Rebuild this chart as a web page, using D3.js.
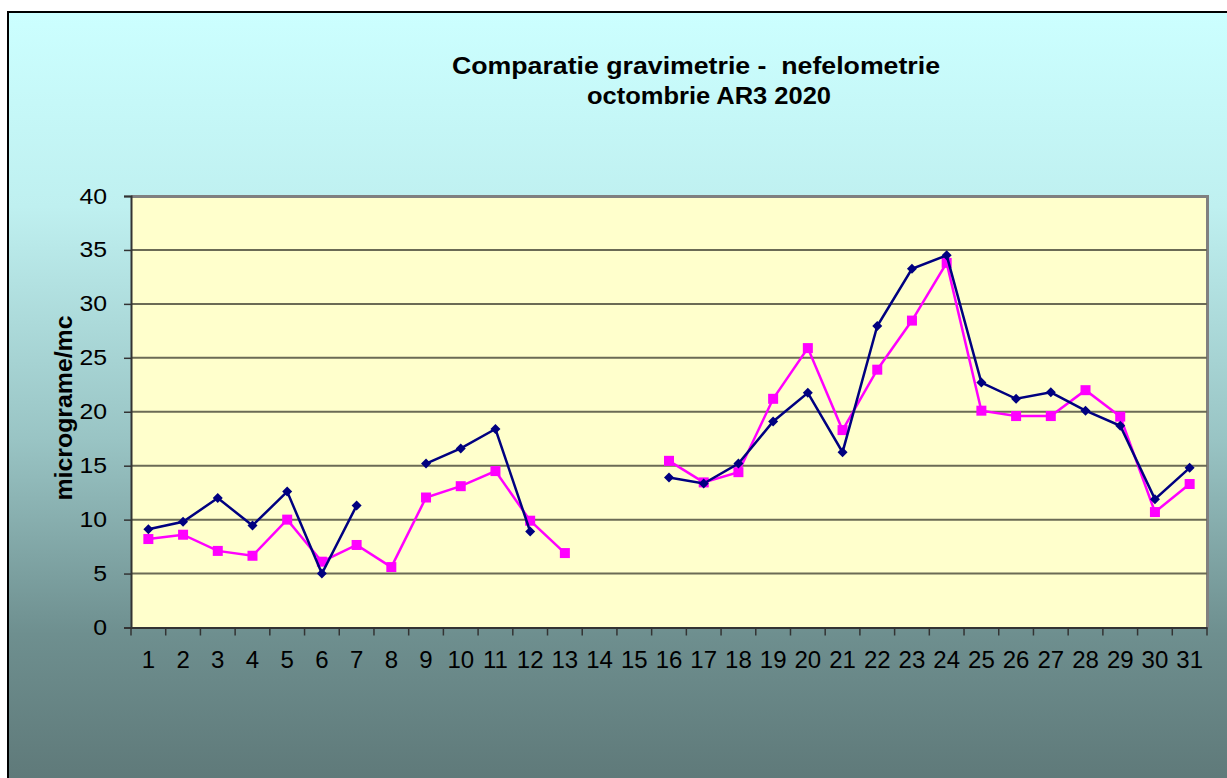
<!DOCTYPE html>
<html>
<head>
<meta charset="utf-8">
<script src="https://cdn.jsdelivr.net/npm/d3@7"></script>
<style>
  body { margin: 0; background: #fff; }
  svg { display: block; font-family: "Liberation Sans", Arial, sans-serif; }
</style>
</head>
<body>
<svg id="chart" width="1227" height="778"></svg>
<script>
// zilele lunii
const days = d3.range(1, 32).map(String);
// gravimetrie (null = lipsa date)
const gravimetrie = [9.1, 9.8, 12.0, 9.45, 12.6, 5.0, 11.3, null, 15.2, 16.6, 18.4, 8.9, null, null, null,
  13.9, 13.35, 15.2, 19.1, 21.75, 16.25, 27.95, 33.25, 34.5, 22.7, 21.2, 21.8, 20.1, 18.7, 11.9, 14.8];
// nefelometrie
const nefelometrie = [8.2, 8.6, 7.1, 6.65, 10.0, 6.1, 7.65, 5.6, 12.05, 13.1, 14.5, 9.9, 6.9, null, null,
  15.45, 13.45, 14.4, 21.2, 25.9, 18.3, 23.9, 28.45, 33.8, 20.1, 19.6, 19.6, 22.0, 19.55, 10.7, 13.3];
const yTicks = [0, 5, 10, 15, 20, 25, 30, 35, 40];

const svg = d3.select('#chart');
const margin = {top: 196, right: 20, bottom: 150, left: 131};
const width = 1207 - margin.left;
const height = 627.5 - margin.top;

// fundal cu gradient
const defs = svg.append('defs');
const grad = defs.append('linearGradient')
  .attr('id', 'bg').attr('x1', 0).attr('y1', 0).attr('x2', 0).attr('y2', 1);
grad.append('stop').attr('offset', '0%').attr('stop-color', '#ccffff');
grad.append('stop').attr('offset', '25%').attr('stop-color', '#bff0f0');
grad.append('stop').attr('offset', '55%').attr('stop-color', '#99c4c4');
grad.append('stop').attr('offset', '80%').attr('stop-color', '#6e8f8f');
grad.append('stop').attr('offset', '100%').attr('stop-color', '#5e7878');

svg.append('rect')
  .attr('x', 8).attr('y', 12).attr('width', 1227).attr('height', 778)
  .attr('fill', 'url(#bg)')
  .attr('stroke', '#000').attr('stroke-width', 2);

// titlu
svg.append('text')
  .attr('x', 696).attr('y', 74)
  .attr('text-anchor', 'middle')
  .attr('font-weight', 'bold').attr('font-size', 24)
  .attr('xml:space', 'preserve')
  .attr('textLength', 488).attr('lengthAdjust', 'spacingAndGlyphs')
  .text('Comparatie gravimetrie -  nefelometrie');
svg.append('text')
  .attr('x', 709).attr('y', 104)
  .attr('text-anchor', 'middle')
  .attr('font-weight', 'bold').attr('font-size', 24)
  .attr('textLength', 244).attr('lengthAdjust', 'spacingAndGlyphs')
  .text('octombrie AR3 2020');

let x = d3.scaleBand()
  .domain(days)
  .range([0, width]);

let y = d3.scaleLinear()
  .domain([0, 40])
  .range([height, 0]);

let chart = svg.append('g')
  .attr('transform', `translate(${margin.left}, ${margin.top})`);

// zona graficului
chart.append('rect')
  .attr('x', 0).attr('y', 0).attr('width', width).attr('height', height)
  .attr('fill', '#ffffcc');
chart.append('path')
  .attr('d', `M0,0.5H${width + 0.5}V${height}`)
  .attr('fill', 'none')
  .attr('stroke', '#808080').attr('stroke-width', 3);

// linii de grila
chart.selectAll('line.grid')
  .data(yTicks.slice(1, -1))
  .enter().append('line')
  .attr('class', 'grid')
  .attr('x1', 0).attr('x2', width)
  .attr('y1', d => y(d)).attr('y2', d => y(d))
  .attr('stroke', '#6b6b55').attr('stroke-width', 2);

// axa y
let yAxis = chart.append('g')
  .call(d3.axisLeft(y).tickValues(yTicks).tickSize(7).tickPadding(17));
yAxis.select('.domain').attr('stroke', '#333').attr('stroke-width', 2);
yAxis.selectAll('.tick line').attr('stroke', '#333').attr('stroke-width', 1.5);
yAxis.selectAll('.tick text')
  .attr('font-size', 22).attr('fill', '#000')
  .attr('font-family', '"Liberation Sans", Arial, sans-serif')
  .attr('textLength', d => String(d).length * 13.8)
  .attr('lengthAdjust', 'spacingAndGlyphs');

// axa x
let xAxis = chart.append('g')
  .attr('transform', `translate(0, ${height})`)
  .call(d3.axisBottom(x).tickSize(0).tickPadding(23));
xAxis.select('.domain').attr('stroke', '#333').attr('stroke-width', 2);
xAxis.selectAll('.tick text')
  .attr('font-size', 24).attr('fill', '#000')
  .attr('font-family', '"Liberation Sans", Arial, sans-serif');
// gradatii intre categorii
xAxis.selectAll('line.sep')
  .data(d3.range(0, days.length + 1))
  .enter().append('line')
  .attr('class', 'sep')
  .attr('x1', i => i * x.bandwidth()).attr('x2', i => i * x.bandwidth())
  .attr('y1', 0).attr('y2', 8)
  .attr('stroke', '#333').attr('stroke-width', 1.5);

// eticheta axa y
svg.append('text')
  .attr('transform', 'translate(72, 408) rotate(-90)')
  .attr('text-anchor', 'middle')
  .attr('font-weight', 'bold').attr('font-size', 24)
  .attr('textLength', 185).attr('lengthAdjust', 'spacingAndGlyphs')
  .text('micrograme/mc');

const cx = (d, i) => x(days[i]) + x.bandwidth() / 2;

let line = d3.line()
  .defined(d => d !== null)
  .x(cx)
  .y(d => y(d));

// nefelometrie (magenta)
chart.append('path')
  .datum(nefelometrie)
  .attr('fill', 'none')
  .attr('stroke', '#ff00ff').attr('stroke-width', 2.5)
  .attr('d', line);

chart.selectAll('rect.nef')
  .data(nefelometrie.map((v, i) => ({v, i})).filter(d => d.v !== null))
  .enter().append('rect')
  .attr('class', 'nef')
  .attr('x', d => cx(d.v, d.i) - 5).attr('y', d => y(d.v) - 5)
  .attr('width', 10).attr('height', 10)
  .attr('fill', '#ff00ff');

// gravimetrie (bleumarin)
chart.append('path')
  .datum(gravimetrie)
  .attr('fill', 'none')
  .attr('stroke', '#000080').attr('stroke-width', 2.5)
  .attr('d', line);

chart.selectAll('path.grav')
  .data(gravimetrie.map((v, i) => ({v, i})).filter(d => d.v !== null))
  .enter().append('path')
  .attr('class', 'grav')
  .attr('transform', d => `translate(${cx(d.v, d.i)}, ${y(d.v)})`)
  .attr('d', 'M0,-5L5,0L0,5L-5,0Z')
  .attr('fill', '#000080');
</script>
</body>
</html>
